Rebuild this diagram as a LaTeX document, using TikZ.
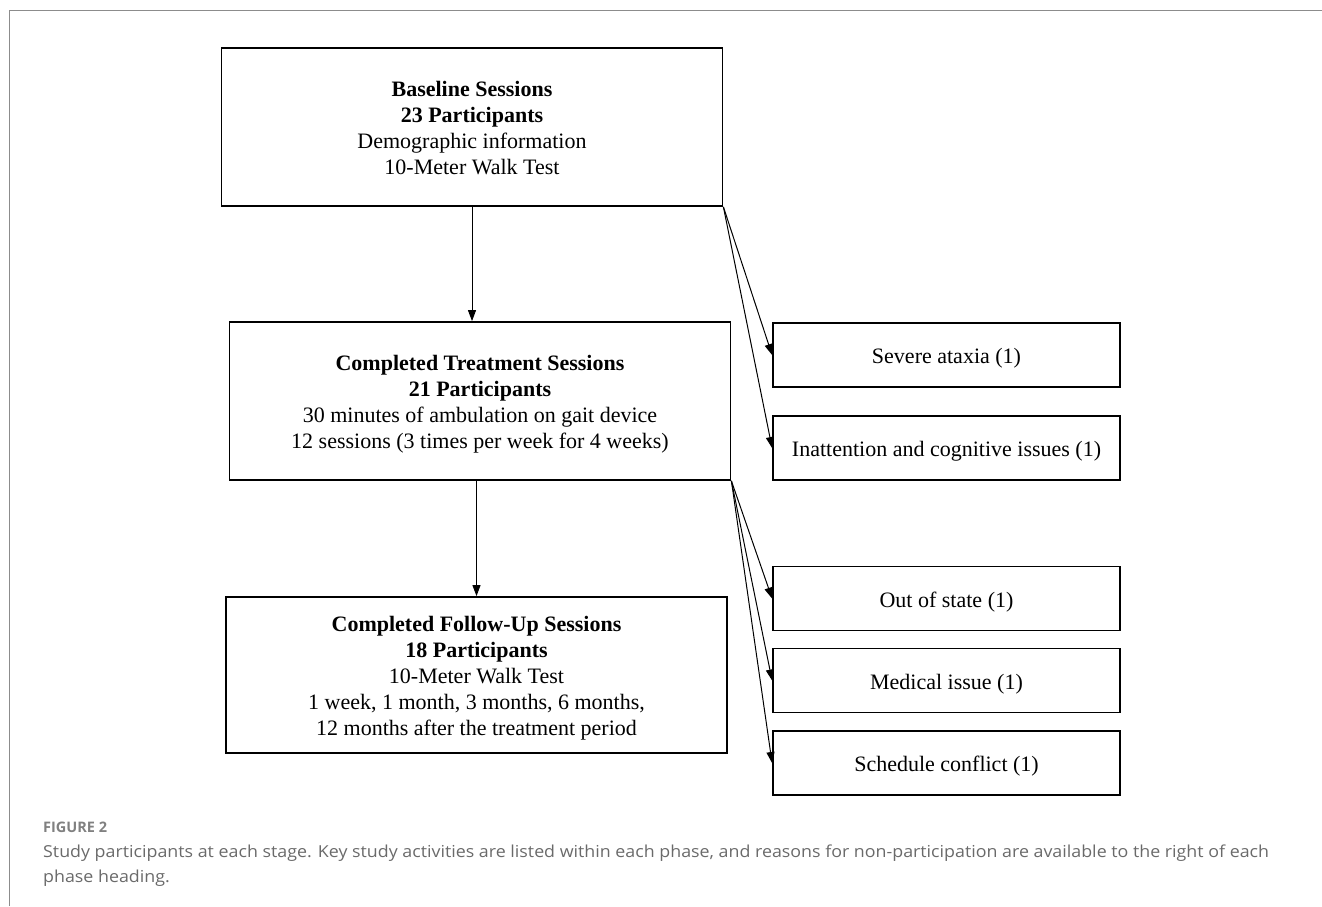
\documentclass[tikz,border=0pt]{standalone}
\usepackage{fontspec}
\setmainfont{Liberation Serif}
\newfontfamily\capfont{Open Sans}
\usepackage{tikz}
\usetikzlibrary{positioning,arrows.meta}
\usepackage{xcolor}
\definecolor{capgray}{HTML}{6A6A6A}
\definecolor{framegray}{HTML}{8C8C8C}
\newcommand\topfix{\rule{0pt}{25pt}}
\newcommand\botfix{\rule[-8pt]{0pt}{8pt}}

\begin{document}
\begin{tikzpicture}[x=1pt,y=-1pt,>={Triangle[length=11pt,width=8pt]},
  phase/.style={draw,line width=1.8pt,align=center,inner sep=0pt,
    minimum width=501pt,minimum height=158pt,font=\fontsize{22}{26}\selectfont},
  reason/.style={draw,line width=1.8pt,inner sep=0pt,
    minimum width=347pt,minimum height=64pt,font=\fontsize{22}{26}\selectfont,
    execute at begin node=\topfix,execute at end node=\botfix},
  flow/.style={->,line width=1pt},
  captext/.style={anchor=base west,inner sep=0pt,text=capgray}]
\useasboundingbox (0,0) rectangle (1322,906);
\draw[framegray,line width=1.4pt] (9.5,906) |- (1322,10.5);
% phases
\node[phase] (base) at (472,127) {\topfix\textbf{Baseline Sessions}\\ \textbf{23 Participants}\\
  Demographic information\\ 10-Meter Walk Test\botfix};
\node[phase] (treat) at (480,401) {\topfix\textbf{Completed Treatment Sessions}\\ \textbf{21 Participants}\\
  30 minutes of ambulation on gait device\\ 12 sessions (3 times per week for 4 weeks)\botfix};
\node[phase,minimum height=156pt] (follow) at (476.5,675) {\topfix\textbf{Completed Follow-Up Sessions}\\ \textbf{18 Participants}\\
  10-Meter Walk Test\\ 1 week, 1 month, 3 months, 6 months,\\ 12 months after the treatment period\botfix};
% reasons for non-participation
\node[reason] (ataxia) at (946.5,355) {Severe ataxia (1)};
\node[reason] (inatt) at (946.5,448) {Inattention and cognitive issues (1)};
\node[reason] (state) at (946.5,598.5) {Out of state (1)};
\node[reason] (medic) at (946.5,680.5) {Medical issue (1)};
\node[reason] (sched) at (946.5,763) {Schedule conflict (1)};
\draw[flow] (base.south) -- (base.south |- treat.north);
\draw[flow] (follow.north |- treat.south) -- (follow.north);
\foreach \r in {ataxia,inatt} \draw[flow] (base.south east) -- (\r.west);
\foreach \r in {state,medic,sched} \draw[flow] (treat.south east) -- (\r.west);
% caption
\node[captext,font=\capfont\bfseries\fontsize{14.5}{17}\selectfont,text=capgray!85] (fig) at (43,832) {FIGURE 2};
\node[captext,font=\capfont\fontsize{16.5}{25}\selectfont] (cap1) at (43,857) {\scalebox{1.08}[1]{Study participants at each stage. Key study activities are listed within each phase, and reasons for non-participation are available to the right of each}};
\node[captext,font=\capfont\fontsize{16.5}{25}\selectfont] (cap2) at (43,882) {\scalebox{1.08}[1]{phase heading.}};
\end{tikzpicture}
\end{document}
